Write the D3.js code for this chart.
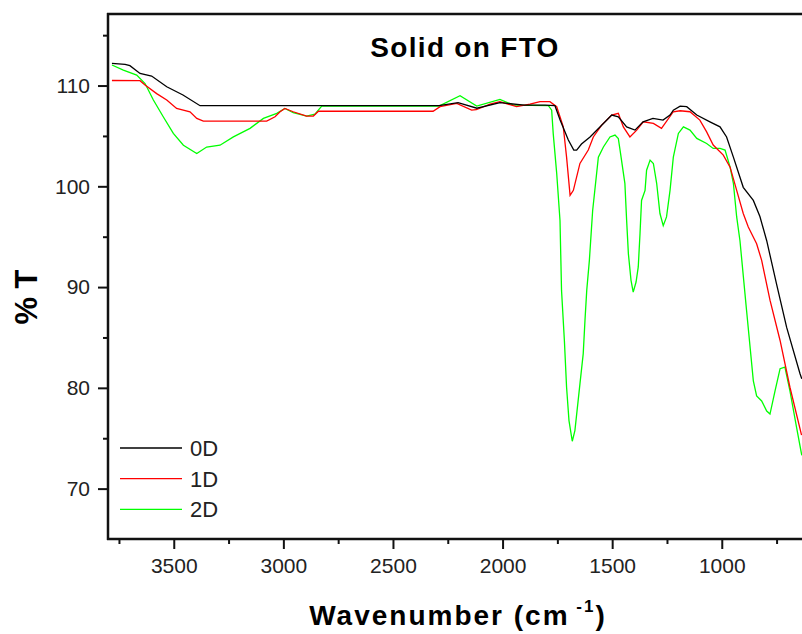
<!DOCTYPE html>
<html>
<head>
<meta charset="utf-8">
<script src="https://cdn.jsdelivr.net/npm/d3@7"></script>
<style>
  html, body { margin: 0; padding: 0; background: #fff; }
  svg { display: block; font-family: "Liberation Sans", Arial, sans-serif; }
</style>
</head>
<body>
<svg id="chart" width="802" height="634"></svg>
<script>
// ---- data (wavenumber in cm^-1, %T) ----
const seriesNames = ["0D", "1D", "2D"];
const seriesColors = ["#000000", "#ff0000", "#00ff00"];

const wn0D = [3782,3722,3700,3654,3601,3532,3458,3380,2830,2290,2203,2117,2012,1900,1806,1761,1738,1700,1675,1662,1640,1601,1540,1502,1472,1434,1396,1359,1314,1268,1236,1221,1190,1160,1114,1054,1008,978,947,902,856,826,795,750,704,643,635];
const t0D  = [112.2,112.1,111.97,111.2,110.94,109.88,109.06,108.0,108.0,108.0,108.3,107.75,108.3,108.05,108.05,108.0,106.6,104.6,103.6,103.6,104.2,104.9,106.24,107.07,106.9,105.9,105.58,106.4,106.74,106.57,107.07,107.56,107.96,107.9,107.07,106.4,105.9,104.9,102.9,99.9,98.6,97.0,94.6,90.3,86.0,81.4,80.9];

const wn1D = [3782,3654,3631,3578,3532,3487,3426,3395,3365,3076,3038,3015,2993,2955,2894,2863,2840,2317,2285,2209,2141,2120,2057,2012,1936,1875,1829,1784,1753,1723,1708,1692,1677,1647,1609,1586,1548,1502,1472,1449,1419,1388,1358,1312,1275,1221,1190,1145,1100,1069,1039,993,962,932,902,879,841,818,780,734,689,636];
const t1D  = [110.5,110.48,110.05,109.2,108.56,107.73,107.4,106.74,106.47,106.47,106.9,107.4,107.73,107.4,106.97,106.97,107.45,107.45,107.9,108.23,107.56,107.6,108.16,108.4,107.9,108.16,108.4,108.4,107.9,105.9,102.9,99.1,99.6,102.27,103.6,104.9,106.07,107.07,107.24,105.9,104.9,105.58,106.4,106.24,105.75,107.4,107.5,107.4,106.57,105.4,104.1,103.1,101.9,99.6,97.3,95.96,94.3,92.65,88.7,84.7,80.06,75.3];

const wn2D = [3782,3730,3669,3631,3593,3548,3502,3456,3395,3350,3289,3228,3152,3091,3030,2993,2955,2894,2856,2825,2290,2194,2118,2012,1951,1791,1776,1769,1753,1738,1731,1718,1708,1697,1682,1670,1647,1632,1624,1616,1604,1596,1589,1563,1540,1510,1487,1472,1464,1442,1434,1426,1414,1404,1391,1381,1373,1366,1350,1343,1327,1312,1297,1282,1267,1252,1236,1221,1198,1175,1145,1114,1069,1039,1008,985,962,947,932,917,887,856,841,818,795,780,757,734,712,689,659,635];
const t2D  = [112.04,111.54,111.04,110.2,108.56,106.9,105.25,104.08,103.26,103.9,104.08,104.9,105.75,106.74,107.24,107.73,107.3,106.97,107.17,107.96,107.96,108.99,107.96,108.63,108.06,108.0,107.56,105.25,101.27,96.6,89.67,84.7,80.06,76.75,74.7,75.76,80.4,83.4,86.7,89.67,92.65,95.3,97.6,102.9,103.9,104.9,105.08,104.75,103.6,100.3,96.6,93.3,90.67,89.5,90.5,92.0,95.3,98.6,99.6,101.6,102.6,102.27,100.3,97.3,96.1,96.96,99.6,102.9,105.25,105.9,105.58,104.75,104.25,103.76,103.76,103.6,101.9,100.3,96.96,94.6,87.7,80.7,79.2,78.7,77.7,77.4,79.7,81.9,82.05,79.7,76.1,73.3];

const xTickValues = [3500, 3000, 2500, 2000, 1500, 1000];
const xMinorTicks = [3750, 3250, 2750, 2250, 1750, 1250, 750];
const yTickValues = [70, 80, 90, 100, 110];
const yMinorTicks = [75, 85, 95, 105, 115];

const titleText = "Solid on FTO";
const xTitle = "Wavenumber (cm";
const yTitle = "% T";

// ---- layout ----
const svg = d3.select("#chart");
const pL = 108, pR = 802, pT = 14, pB = 539;

const x = d3.scaleLinear().domain([3800, 634]).range([pL, pR]);
const y = d3.scaleLinear().domain([65, 117.1]).range([pB, pT]);

svg.append("defs").append("clipPath").attr("id", "clip")
  .append("rect").attr("x", pL).attr("y", pT).attr("width", pR - pL).attr("height", pB - pT);

const series = [
  { name: seriesNames[0], color: seriesColors[0], wn: wn0D, t: t0D },
  { name: seriesNames[1], color: seriesColors[1], wn: wn1D, t: t1D },
  { name: seriesNames[2], color: seriesColors[2], wn: wn2D, t: t2D }
];

const line = d3.line().x(d => x(d[0])).y(d => y(d[1]));

const g = svg.append("g").attr("clip-path", "url(#clip)");
[2, 1, 0].forEach(i => {
  const s = series[i];
  g.append("path")
    .datum(s.wn.map((w, k) => [w, s.t[k]]))
    .attr("fill", "none")
    .attr("stroke", s.color)
    .attr("stroke-width", 1.3)
    .attr("d", line);
});

// ---- axes ----
const axisColor = "#111";
const labelColor = "#222";

const xAxis = svg.append("g").attr("transform", `translate(0,${pB})`)
  .call(d3.axisBottom(x).tickValues(xTickValues).tickSize(10).tickPadding(9).tickFormat(d3.format("d")));
const xMinor = svg.append("g").attr("transform", `translate(0,${pB})`)
  .call(d3.axisBottom(x).tickValues(xMinorTicks).tickSize(5).tickFormat(""));

const yAxis = svg.append("g").attr("transform", `translate(${pL},0)`)
  .call(d3.axisLeft(y).tickValues(yTickValues).tickSize(10).tickPadding(8).tickFormat(d3.format("d")));
const yMinor = svg.append("g").attr("transform", `translate(${pL},0)`)
  .call(d3.axisLeft(y).tickValues(yMinorTicks).tickSize(5).tickFormat(""));

[xAxis, xMinor, yAxis, yMinor].forEach(a => {
  a.select(".domain").remove();
  a.selectAll(".tick line").attr("stroke", axisColor).attr("stroke-width", 2);
  a.selectAll(".tick text").attr("fill", labelColor)
    .style("font-size", "21px")
    .style("font-family", "'Liberation Sans', Arial, sans-serif");
});

svg.append("line").attr("x1", pL).attr("x2", pL).attr("y1", pT - 1).attr("y2", pB + 1)
  .attr("stroke", axisColor).attr("stroke-width", 2.5);
svg.append("line").attr("x1", pL - 1).attr("x2", pR).attr("y1", pB).attr("y2", pB)
  .attr("stroke", axisColor).attr("stroke-width", 2.5);
svg.append("line").attr("x1", pL - 1).attr("x2", pR).attr("y1", pT).attr("y2", pT)
  .attr("stroke", axisColor).attr("stroke-width", 2.5);

// ---- title ----
svg.append("text")
  .attr("x", 465).attr("y", 57)
  .attr("text-anchor", "middle")
  .style("font-size", "28px").style("font-weight", "bold").style("letter-spacing", "1.3px")
  .attr("fill", "#000")
  .text(titleText);

// ---- axis titles ----
const xt = svg.append("text")
  .attr("x", 458).attr("y", 625)
  .attr("text-anchor", "middle")
  .style("font-size", "28px").style("font-weight", "bold").style("letter-spacing", "2px")
  .attr("fill", "#000");
xt.append("tspan").text(xTitle);
xt.append("tspan").attr("dy", -13).style("font-size", "17px").text(" -1");
xt.append("tspan").attr("dy", 13).text(")");

svg.append("text")
  .attr("transform", "translate(37,297) rotate(-90)")
  .attr("text-anchor", "middle")
  .style("font-size", "31px").style("font-weight", "bold")
  .attr("fill", "#000")
  .text(yTitle);

// ---- legend ----
const legend = svg.append("g");
series.forEach((s, i) => {
  const ly = 448 + i * 30.7;
  legend.append("line").attr("x1", 120).attr("x2", 182).attr("y1", ly).attr("y2", ly)
    .attr("stroke", s.color).attr("stroke-width", 1.3);
  legend.append("text").attr("x", 190).attr("y", ly + 8)
    .style("font-size", "22px").attr("fill", labelColor).text(s.name);
});
</script>
</body>
</html>
